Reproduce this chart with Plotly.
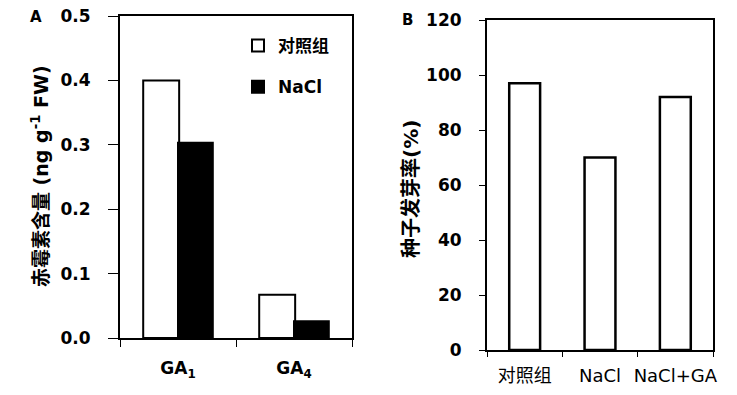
import plotly.graph_objects as go

# Panel A data
ga_categories = ["GA<sub>1</sub>", "GA<sub>4</sub>"]
control_ga = [0.40, 0.067]
nacl_ga = [0.303, 0.026]
a_ticks = [0.0, 0.1, 0.2, 0.3, 0.4, 0.5]

# Panel B data
b_categories = ["对照组", "NaCl", "NaCl+GA"]
germination = [97, 70, 92]
b_ticks = [0, 20, 40, 60, 80, 100, 120]

FONT = "DejaVu Sans, Noto Sans CJK SC"
W, H = 737, 395

fig = go.Figure()
fig.add_trace(go.Bar(x=ga_categories, y=control_ga, name="对照组", xaxis="x", yaxis="y",
                     marker=dict(color="white", line=dict(color="black", width=2)),
                     width=0.31, offset=-0.30, legendgroup="a"))
fig.add_trace(go.Bar(x=ga_categories, y=nacl_ga, name="NaCl", xaxis="x", yaxis="y",
                     marker=dict(color="black", line=dict(color="black", width=2)),
                     width=0.30, offset=0.0, legendgroup="b"))
fig.add_trace(go.Bar(x=b_categories, y=germination, xaxis="x2", yaxis="y2", showlegend=False,
                     marker=dict(color="white", line=dict(color="black", width=2.5)),
                     width=0.41))

axis_common = dict(showline=True, linecolor="black", linewidth=2, mirror=True, automargin=False,
                   showgrid=False, zeroline=False, ticks="outside", tickcolor="black")

bold17 = dict(family=FONT, size=17, color="black", weight="bold")

def ann(text, x, y, size, angle=0):
    return dict(text=text, x=x / W, y=1 - y / H, xref="paper", yref="paper", showarrow=False,
                xanchor="center", yanchor="middle", textangle=angle,
                font=dict(family=FONT, size=size, color="black", weight="bold"))

fig.update_layout(
    width=W, height=H, margin=dict(l=0, r=0, t=0, b=0, autoexpand=False),
    paper_bgcolor="white", plot_bgcolor="white",
    barmode="overlay",
    font=dict(family=FONT, color="black"),
    xaxis=dict(domain=[120 / W, 352 / W], anchor="y", type="category", tickson="boundaries",
               ticklen=7, ticklabelstandoff=14, tickangle=0, tickfont=bold17, **axis_common),
    yaxis=dict(domain=[1 - 338 / H, 1 - 16 / H], anchor="x", range=[0, 0.5],
               tickvals=a_ticks, tickformat=".1f", ticklen=10, ticklabelstandoff=14,
               tickfont=bold17, **axis_common),
    xaxis2=dict(domain=[487 / W, 713 / W], anchor="y2", type="category", tickson="boundaries",
                ticklen=5, ticklabelstandoff=8, tickangle=0,
                tickfont=dict(family=FONT, size=18, color="black"), **axis_common),
    yaxis2=dict(domain=[1 - 350 / H, 1 - 20 / H], anchor="x2", range=[0, 120],
                tickvals=b_ticks, ticklen=6, ticklabelstandoff=14, tickfont=bold17, **axis_common),
    legend=dict(x=238 / W, y=1 - 28 / H, xanchor="left", yanchor="top",
                bgcolor="rgba(0,0,0,0)", tracegroupgap=16,
                font=dict(family=FONT, size=17, color="black", weight="bold")),
    annotations=[
        ann("A", 36, 17, 15),
        ann("B", 407, 20, 15),
        ann("赤霉素含量 (ng g<sup>-1</sup> FW)", 40, 176, 19, -90),
        ann("种子发芽率(%)", 411, 189, 20, -90),
    ],
)

fig.write_html("out.html", post_script="document.body.style.margin='0';",
               config={"displayModeBar": False})
